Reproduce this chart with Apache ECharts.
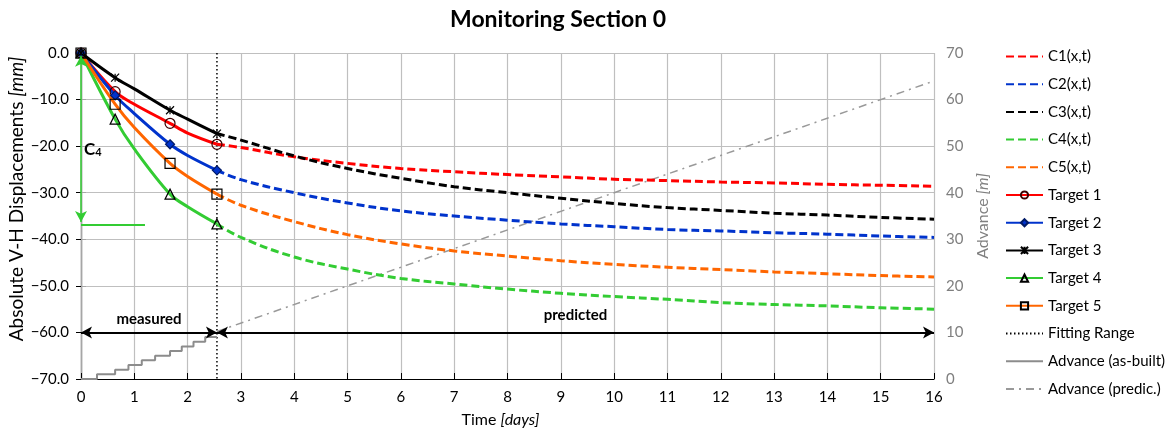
<!DOCTYPE html>
<html>
<head>
<meta charset="utf-8">
<script src="https://cdn.jsdelivr.net/npm/echarts@6/dist/echarts.min.js"></script>
<style>
  html, body { margin: 0; padding: 0; background: #fff; }
  #chart { width: 1171px; height: 432px; }
</style>
</head>
<body>
<div id="chart"></div>
<script>
// ---- measured displacements (mm) ----
const measTimes  = [0, 0.64, 1.0, 1.67, 2.0, 2.55];
const measMarker = [true, true, false, true, false, true];
const target1 = [0, -8.3, -11.0, -15.1, -17.2, -19.6];
const target2 = [0, -9.1, -13.0, -19.6, -22.0, -25.2];
const target3 = [0, -5.3, -7.7, -12.3, -14.2, -17.3];
const target4 = [0, -14.2, -20.6, -30.3, -33.0, -36.7];
const target5 = [0, -11.0, -16.0, -23.7, -26.5, -30.3];

// ---- predicted displacements C1..C5 (mm) ----
const predTimes = [2.55, 3, 4, 5, 6, 7, 8, 9, 10, 11, 12, 13, 14, 15, 16];
const c1 = [-19.6, -20.3, -22.3, -23.7, -24.8, -25.5, -26.1, -26.6, -27.1, -27.4, -27.7, -27.9, -28.2, -28.4, -28.6];
const c2 = [-25.2, -27.2, -30.0, -32.2, -33.9, -35.0, -35.9, -36.7, -37.3, -37.9, -38.2, -38.6, -38.9, -39.3, -39.6];
const c3 = [-17.3, -18.7, -22.1, -24.8, -26.9, -28.7, -30.0, -31.2, -32.3, -33.2, -33.8, -34.4, -34.8, -35.3, -35.7];
const c4 = [-36.7, -39.6, -43.8, -46.4, -48.4, -49.6, -50.7, -51.6, -52.3, -52.9, -53.6, -54.0, -54.3, -54.7, -55.0];
const c5 = [-30.3, -32.7, -36.2, -39.0, -41.0, -42.5, -43.6, -44.6, -45.4, -46.0, -46.5, -47.0, -47.4, -47.8, -48.1];

// ---- face advance (m) ----
const advBuiltT = [0, 0.30, 0.64, 0.89, 1.14, 1.39, 1.67, 1.89, 2.11, 2.33, 2.55];
const advBuiltV = [0, 1, 2, 3, 4, 5, 6, 7, 8, 9, 9];
const advPredT = [2.55, 16];
const advPredV = [10.2, 64];

// ---- fitting range / annotations ----
const fitT = 2.55;
const c4Value = -36.9;
const arrowLevel = -60;
const xTicks = { min: 0, max: 16, step: 1 };
const yTicks = { min: -70, max: 0, step: 10 };
const advTicks = { min: 0, max: 70, step: 10 };

const FONT = 'Lato, "Open Sans", sans-serif';
const RED = '#ff0000', BLUE = '#0033cc', BLACK = '#000000', GREEN = '#33cc33', ORANGE = '#ff6600';
const NO_MARK = { color: 'rgba(0,0,0,0)', borderWidth: 0 };

function pairs(ts, vs) { return ts.map((t, i) => [t, vs[i]]); }
function measData(vs) {
  return measTimes.map((t, i) => measMarker[i] ? [t, vs[i]] : { value: [t, vs[i]], symbol: 'none' });
}

function predSeries(name, vs, color) {
  return {
    name, type: 'line', data: pairs(predTimes, vs), smooth: 0.4, showSymbol: false, symbol: 'circle',
    lineStyle: { color, width: 3, type: [8, 4] }, itemStyle: NO_MARK, z: 3
  };
}
function targetSeries(name, vs, color, symbol, size, fill, border) {
  return {
    name, type: 'line', data: measData(vs), smooth: 0.35, symbol, symbolSize: size, showAllSymbol: true,
    lineStyle: { color, width: 3 },
    itemStyle: { color: fill, borderColor: border, borderWidth: 1.2 }, z: 4
  };
}

const chart = echarts.init(document.getElementById('chart'), null, { renderer: 'canvas' });

const option = {
  animation: false,
  backgroundColor: '#ffffff',
  title: {
    text: 'Monitoring Section 0', left: 445, top: 3,
    textStyle: { fontFamily: FONT, fontSize: 23, fontWeight: 'bold', color: '#000' }
  },
  legend: {
    orient: 'vertical', left: 1000, top: 44, itemWidth: 37, itemHeight: 9, itemGap: 12.7,
    textStyle: { fontFamily: FONT, fontSize: 15, color: '#000', lineHeight: 14 },
    data: ['C1(x,t)', 'C2(x,t)', 'C3(x,t)', 'C4(x,t)', 'C5(x,t)', 'Target 1', 'Target 2', 'Target 3',
           'Target 4', 'Target 5', 'Fitting Range', 'Advance (as-built)', 'Advance (predic.)']
  },
  grid: { left: 81, top: 53, width: 853, height: 326, containLabel: false, outerBoundsMode: 'none' },
  xAxis: [{
    type: 'value', position: 'bottom', min: xTicks.min, max: xTicks.max, interval: xTicks.step,
    name: '{a|Time }{b|[days]}', nameLocation: 'middle', nameGap: 33,
    nameTextStyle: { padding: [0, 14, 0, 0], rich: {
      a: { fontFamily: FONT, fontSize: 16, color: '#000' },
      b: { fontFamily: FONT, fontSize: 16, color: '#000', fontStyle: 'italic' } } },
    axisLine: { show: true, lineStyle: { color: '#bfbfbf', width: 1 } },
    axisTick: { show: false },
    axisLabel: { fontFamily: FONT, fontSize: 15, color: '#000', margin: 11 },
    splitLine: { show: true, lineStyle: { color: '#bfbfbf', width: 1.2 } }
  }, {
    type: 'value', position: 'top', min: xTicks.min, max: xTicks.max, interval: xTicks.step,
    axisLine: { show: true, lineStyle: { color: '#000', width: 1.2 } },
    axisTick: { show: true, inside: false, length: 6, lineStyle: { color: '#000' } },
    axisLabel: { show: false }, splitLine: { show: false }
  }],
  yAxis: [{
    type: 'value', position: 'left', min: yTicks.min, max: yTicks.max, interval: yTicks.step,
    name: '{a|Absolute V-H Displacements }{b|[mm]}', nameLocation: 'middle', nameGap: 55, nameRotate: 90,
    nameMoveOverlap: false,
    nameTextStyle: { padding: [0, 0, 0, 34], rich: {
      a: { fontFamily: FONT, fontSize: 19, color: '#000' },
      b: { fontFamily: FONT, fontSize: 19, color: '#000', fontStyle: 'italic' } } },
    axisLine: { show: true, lineStyle: { color: '#000', width: 1.2 } },
    axisTick: { show: true, inside: false, length: 5, lineStyle: { color: '#000' } },
    axisLabel: { fontFamily: FONT, fontSize: 15, color: '#000', margin: 12,
                 formatter: v => (v < 0 ? '\u2212' : '') + Math.abs(v).toFixed(1) },
    splitLine: { show: true, lineStyle: { color: '#bfbfbf', width: 1.2 } }
  }, {
    type: 'value', position: 'right', min: advTicks.min, max: advTicks.max, interval: advTicks.step,
    name: '{a|Advance }{b|[m]}', nameLocation: 'middle', nameGap: 41, nameRotate: 90,
    nameTextStyle: { rich: {
      a: { fontFamily: FONT, fontSize: 16, color: '#7f7f7f' },
      b: { fontFamily: FONT, fontSize: 16, color: '#7f7f7f', fontStyle: 'italic' } } },
    axisLine: { show: true, lineStyle: { color: '#a6a6a6', width: 1.2 } },
    axisTick: { show: true, inside: false, length: 5, lineStyle: { color: '#a6a6a6' } },
    axisLabel: { fontFamily: FONT, fontSize: 15, color: '#7f7f7f', margin: 12 },
    splitLine: { show: false }
  }],
  series: [
    predSeries('C1(x,t)', c1, RED),
    predSeries('C2(x,t)', c2, BLUE),
    predSeries('C3(x,t)', c3, BLACK),
    predSeries('C4(x,t)', c4, GREEN),
    predSeries('C5(x,t)', c5, ORANGE),
    targetSeries('Target 1', target1, RED, 'circle', 10, 'rgba(0,0,0,0)', '#3a0000'),
    targetSeries('Target 2', target2, BLUE, 'diamond', 9, BLUE, '#001a66'),
    targetSeries('Target 3', target3, BLACK, 'path://M0,0L10,10M10,0L0,10M5,0L5,10', 8, 'rgba(0,0,0,0)', '#000'),
    targetSeries('Target 4', target4, GREEN, 'triangle', 10, 'rgba(0,0,0,0)', '#000'),
    targetSeries('Target 5', target5, ORANGE, 'rect', 10, 'rgba(0,0,0,0)', '#000'),
    {
      name: 'Fitting Range', type: 'line', symbol: 'circle', showSymbol: false,
      data: [[fitT, yTicks.max], [fitT, yTicks.min]],
      lineStyle: { color: '#000', width: 1.5, type: [1.5, 2.5] }, itemStyle: NO_MARK, z: 2
    },
    {
      name: 'Advance (as-built)', type: 'line', yAxisIndex: 1, symbol: 'circle', showSymbol: false, step: 'end',
      data: pairs(advBuiltT, advBuiltV),
      lineStyle: { color: '#8c8c8c', width: 2 }, itemStyle: NO_MARK, z: 2
    },
    {
      name: 'Advance (predic.)', type: 'line', yAxisIndex: 1, symbol: 'circle', showSymbol: false,
      data: pairs(advPredT, advPredV),
      lineStyle: { color: '#999999', width: 1.5, type: [8, 5, 2, 5] }, itemStyle: NO_MARK, z: 2
    },
    {
      // time-span arrows, C4 dimension line and its label
      name: 'annotations', type: 'line', data: [], silent: true, z: 5,
      markLine: {
        silent: true, animation: false, symbol: ['arrow', 'arrow'], symbolSize: [9, 11],
        data: [
          [{ coord: [0, arrowLevel], lineStyle: { color: '#000', width: 2, type: 'solid' },
             label: { show: true, position: 'insideMiddleTop', distance: 6, formatter: 'measured',
                      fontFamily: FONT, fontWeight: 'bold', fontSize: 15, color: '#000' } },
           { coord: [fitT, arrowLevel] }],
          [{ coord: [fitT, arrowLevel], lineStyle: { color: '#000', width: 2, type: 'solid' },
             label: { show: true, position: 'insideMiddleTop', distance: 10, formatter: 'predicted',
                      fontFamily: FONT, fontWeight: 'bold', fontSize: 15, color: '#000' } },
           { coord: [xTicks.max, arrowLevel] }],
          [{ coord: [0, -0.6], lineStyle: { color: GREEN, width: 1.5, type: 'solid' }, label: { show: false } },
           { coord: [0, c4Value + 0.6] }],
          [{ coord: [0, c4Value], symbol: 'none', lineStyle: { color: GREEN, width: 2, type: 'solid' }, label: { show: false } },
           { coord: [1.2, c4Value], symbol: 'none' }]
        ]
      },
      markPoint: {
        silent: true, animation: false, symbol: 'circle', symbolSize: 0,
        data: [{ coord: [0.22, -20.3],
          label: { show: true, position: 'inside', formatter: '{c|C}{s|4}',
            rich: {
              c: { fontFamily: FONT, fontSize: 17, fontWeight: 'bold', color: '#000', verticalAlign: 'bottom', lineHeight: 20 },
              s: { fontFamily: FONT, fontSize: 11, fontWeight: 'bold', color: '#000', verticalAlign: 'bottom', lineHeight: 14 }
            } } }]
      }
    }
  ]
};

chart.setOption(option);
</script>
</body>
</html>
